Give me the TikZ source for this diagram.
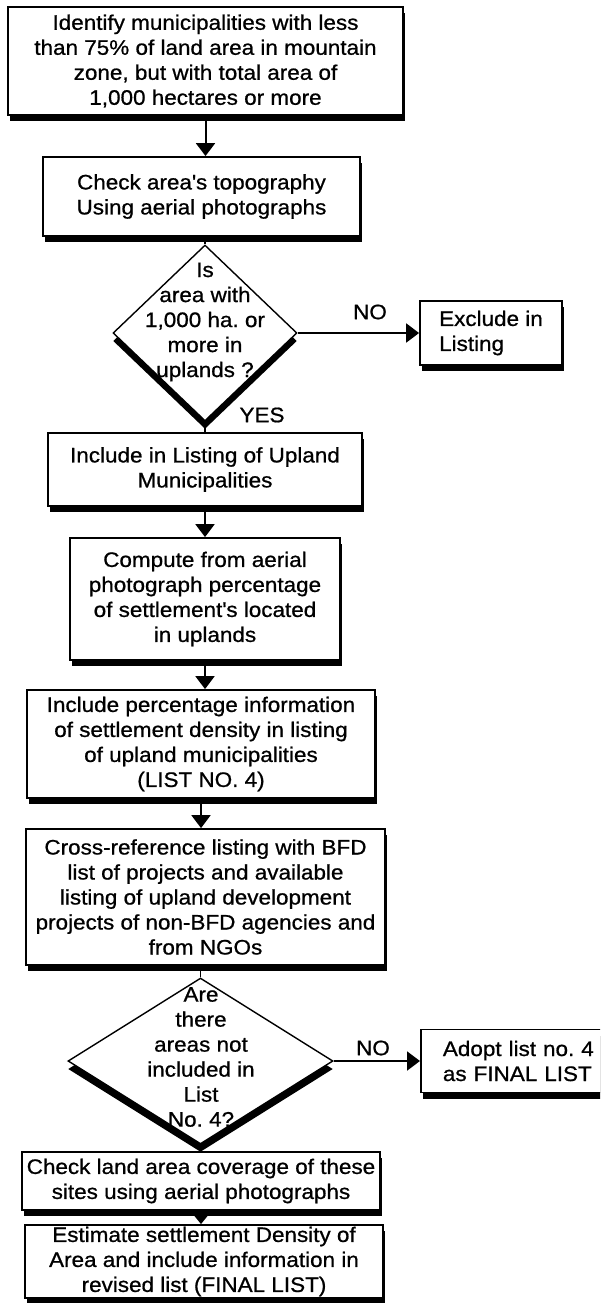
\documentclass[tikz,border=0pt]{standalone}
\usepackage{fontspec}
\setmainfont[FakeStretch=1.07,FakeBold=0.8]{Liberation Sans}
\usetikzlibrary{shapes.geometric,arrows.meta,shadows}
\frenchspacing

\begin{document}
\begin{tikzpicture}[x=1pt,y=-1pt,
  txt/.style={font=\fontsize{21pt}{25pt}\selectfont, align=center, inner sep=0pt},
  stepbox/.style={txt, rectangle, draw, line width=1.8pt, fill=white,
    drop shadow={shadow xshift=2pt, shadow yshift=-6pt, fill=black, opacity=1}},
  decision/.style={diamond, draw, line width=1.4pt, fill=white, inner sep=0pt,
    drop shadow={shadow xshift=0pt, shadow yshift=-8pt, fill=black, opacity=1}},
  arr/.style={line width=2pt, -{Triangle[width=19pt,length=13pt]}},
  shortarr/.style={line width=2pt, -{Triangle[width=14pt,length=9pt]}},
  joint/.style={line width=1.4pt}
]
\clip (0,0) rectangle (600,1303);

% process steps
\node[stepbox, minimum width=395pt, minimum height=108pt] (b1) at (205.5,61)
  {Identify municipalities with less\\than 75\% of land area in mountain\\zone, but with total area of\\1,000 hectares or more};
\node[stepbox, minimum width=317pt, minimum height=79pt] (b2) at (201.5,196.5)
  {Check area\textquotesingle s topography\\Using aerial photographs};

% first decision
\node[decision, minimum width=184pt, minimum height=176pt] (d1) at (205,333) {};
\node[txt] (d1t) at (205,322) {Is\\area with\\1,000 ha. or\\more in\\uplands ?};
\node[txt] (no1) at (370,312) {NO};
\node[txt] (yes1) at (262,415) {YES};
\node[stepbox, align=left, minimum width=142pt, minimum height=64pt] (ex) at (491,333)
  {Exclude in\\Listing};

\node[stepbox, minimum width=314pt, minimum height=73pt] (b3) at (205,469.5)
  {Include in Listing of Upland\\Municipalities};
\node[stepbox, minimum width=270pt, minimum height=122pt] (b4) at (205,599)
  {Compute from aerial\\photograph percentage\\of settlement\textquotesingle s located\\in uplands};
\node[stepbox, minimum width=348pt, minimum height=108pt] (b5) at (201,744)
  {Include percentage information\\of settlement density in listing\\of upland municipalities\\(LIST NO. 4)};
\node[stepbox, minimum width=359pt, minimum height=136pt] (b6) at (205.5,897)
  {Cross-reference listing with BFD\\list of projects and available\\listing of upland development\\projects of non-BFD agencies and\\from NGOs};

% second decision
\node[decision, minimum width=265pt, minimum height=166pt] (d2) at (200.5,1061) {};
\node[txt] (d2t) at (201,1057) {Are\\there\\areas not\\included in\\List\\No. 4?};
\node[txt] (no2) at (373,1048) {NO};
\node[stepbox, align=left, anchor=west, minimum width=220pt, minimum height=63pt,
  text width=176pt, inner xsep=22pt] (ad) at (420,1061)
  {Adopt list no. 4\\as FINAL LIST};

\node[stepbox, minimum width=358pt, minimum height=58pt] (b7) at (201,1181)
  {Check land area coverage of these\\sites using aerial photographs};
\node[stepbox, minimum width=358pt, minimum height=73pt] (b8) at (204,1261.5)
  {Estimate settlement Density of\\Area and include information in\\revised list (FINAL LIST)};

% connectors
\draw[arr] (b1.south) -- (b1.south |- b2.north);
\draw[joint] (b2.south -| d1.north) -- (d1.north);
\draw[arr] (d1.east) -- (d1.east -| ex.west);
\draw[joint] (d1.south) -- (d1.south |- b3.north);
\draw[arr] (b3.south) -- (b3.south |- b4.north);
\draw[arr] (b4.south) -- (b4.south |- b5.north);
\draw[arr] (b5.south) -- (b5.south |- b6.north);
\draw[joint] (b6.south -| d2.north) -- (d2.north);
\draw[arr] (d2.east) -- (d2.east -| ad.west);
\draw[joint] (d2.south) -- (d2.south |- b7.north);
\draw[shortarr] (b7.south) -- (b7.south |- b8.north);
\end{tikzpicture}
\end{document}
